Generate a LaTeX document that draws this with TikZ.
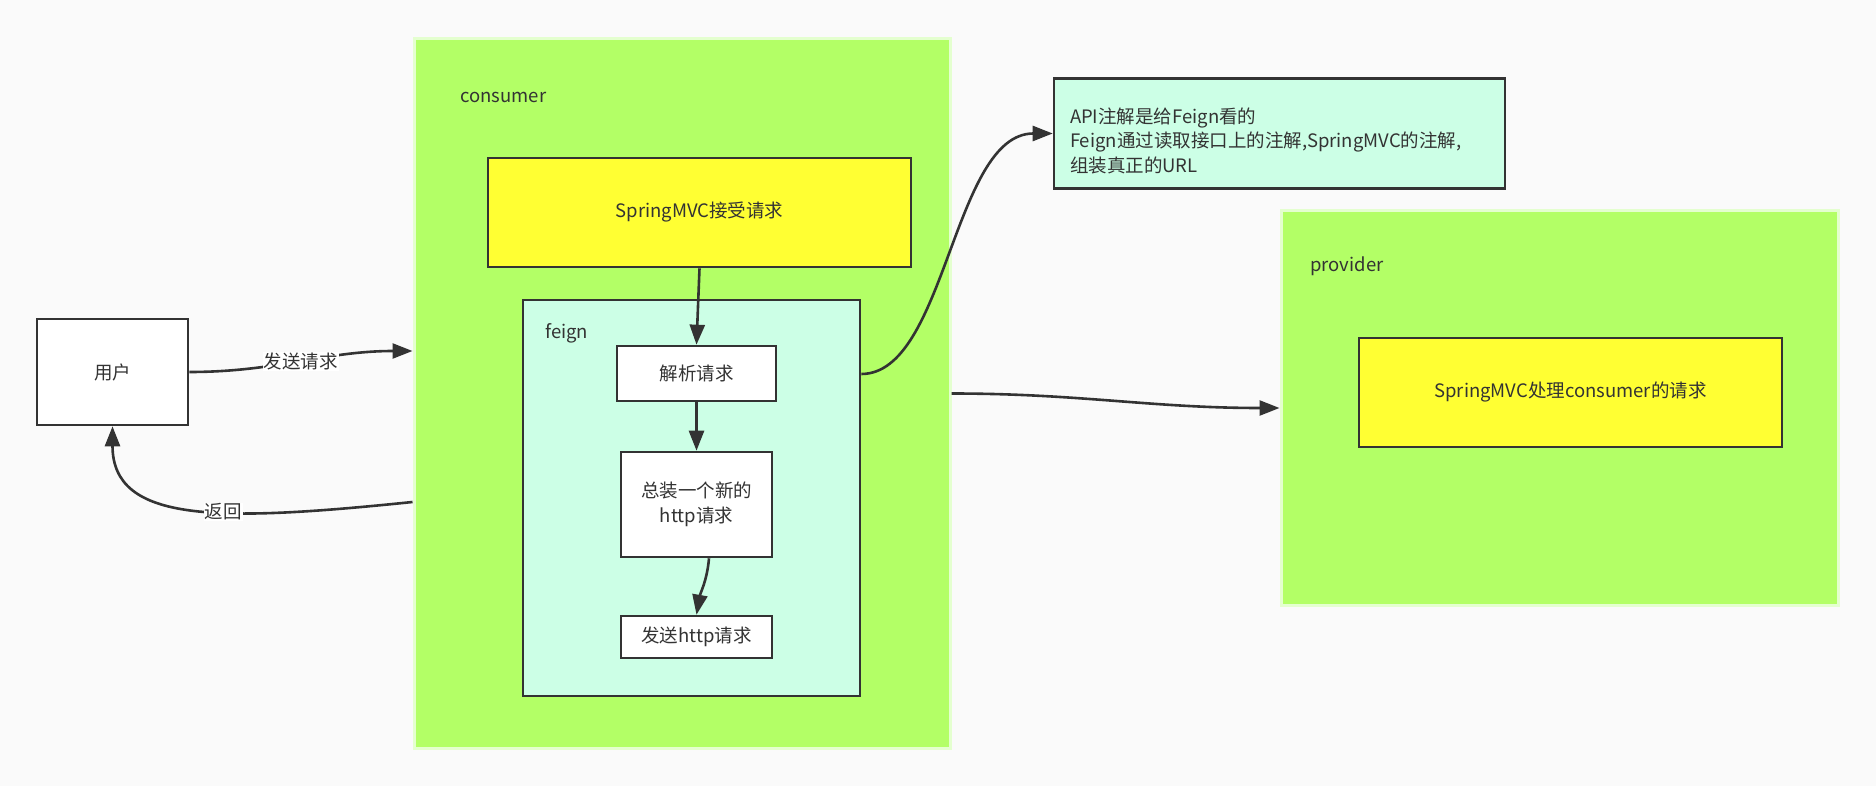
\documentclass[tikz,border=0pt]{standalone}
\usepackage{fontspec}
\setmainfont{Noto Sans CJK SC}
\usetikzlibrary{arrows.meta}
\definecolor{fondo}{HTML}{FAFAFA}
\definecolor{verde}{HTML}{B3FF66}
\definecolor{borde}{HTML}{E4FFCF}
\definecolor{amarillo}{HTML}{FFFF33}
\definecolor{menta}{HTML}{CCFFE6}
\definecolor{tinta}{HTML}{333333}
\tikzset{
  caja/.style={draw=tinta, line width=2.6pt, fill=white, inner sep=0pt, align=center},
  grupo/.style={fill=verde, draw=borde, line width=3pt, inner sep=0pt},
  etiq/.style={fill=white, inner sep=1pt},
}
\begin{document}
\begin{tikzpicture}[x=1pt, y=-1pt, >={Triangle[length=20pt,width=15pt]}, line width=2.6pt,
  color=tinta, font=\fontsize{18.5}{24.5}\selectfont]
  % fondo
  \fill[fondo] (0,0) rectangle (1876,786);
  % grupos
  \node[grupo, minimum width=536pt, minimum height=709pt] (consumer) at (682,393.5) {};
  \node[grupo, minimum width=557pt, minimum height=394pt] (provider) at (1559.5,408) {};
  \node[caja, fill=menta, minimum width=337pt, minimum height=396pt] (feign) at (691.5,498) {};
  \foreach \n/\x/\y/\t in {lconsumer/459/97/consumer, lprovider/1309/266/provider, lfeign/544/333/feign}{
    \node[anchor=west, inner sep=0pt] (\n) at (\x,\y) {\t};}
  % cajas
  \node[caja, minimum width=151pt, minimum height=106pt] (user) at (112.5,372) {用户};
  \node[caja, fill=amarillo, minimum width=423pt, minimum height=109pt] (mvcin) at (699.5,212.5) {SpringMVC接受请求};
  \node[caja, minimum width=159pt, minimum height=55pt] (parse) at (696.5,373.5) {解析请求};
  \node[caja, minimum width=151pt, minimum height=105pt] (build) at (696.5,504.5) {总装一个新的\\http请求};
  \node[caja, minimum width=151pt, minimum height=42pt] (send) at (696.5,637) {发送http请求};
  \node[caja, fill=amarillo, minimum width=423pt, minimum height=109pt] (mvcout) at (1570.5,392.5) {SpringMVC处理consumer的请求};
  \node[caja, fill=menta, text width=419pt, align=left, inner xsep=16pt, minimum height=110pt] (note) at (1279.5,133.5)
    {\rule{0pt}{30pt}API注解是给Feign看的\\Feign通过读取接口上的注解,SpringMVC的注解,\\组装真正的URL};
  % flechas
  \draw[->] (user.east) to[out=0,in=180] node[etiq]{发送请求} ([yshift=42.5pt]consumer.west);
  \draw[->] ([yshift=-108.5pt]consumer.west) .. controls +(-194,20) and +(0,97) .. (user.south)
    node[etiq, pos=0.4]{返回};
  \draw[->] (mvcin.south) -- (parse.north);
  \draw[->] (parse.south) -- (build.north);
  \draw[->] ([xshift=12.5pt]build.south) to[out=-95,in=80] (send.north);
  \draw[->] ([yshift=124pt]feign.east) .. controls +(85,0) and +(-100,0) .. (note.west);
  \draw[->] (consumer.east) to[out=0,in=180] (provider.west);
\end{tikzpicture}
\end{document}
